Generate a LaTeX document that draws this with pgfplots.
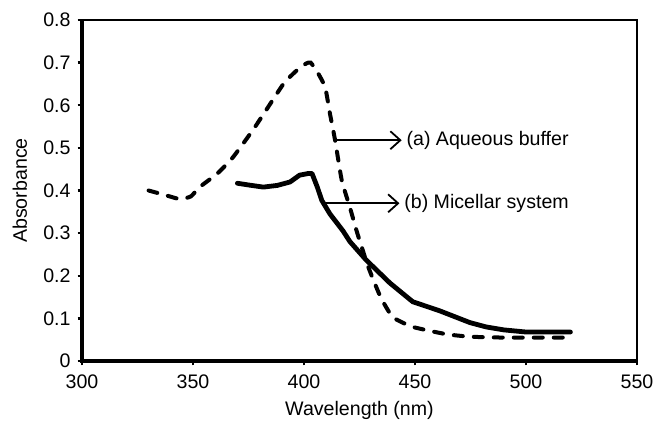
\documentclass[border=0pt]{standalone}
\usepackage{fontspec}
\setmainfont{Liberation Sans}
\usepackage{pgfplots}
\pgfplotsset{compat=1.18}
\usetikzlibrary{arrows.meta}
\begin{document}
\begin{tikzpicture}[font=\fontsize{9.8}{11.5}\selectfont]
\useasboundingbox (-41pt,-32pt) rectangle (288pt,180.5pt);
\begin{axis}[
  at={(0,0)}, anchor=south west,
  scale only axis,
  width=277.5pt, height=170.5pt,
  xmin=300, xmax=550, ymin=0, ymax=0.8,
  xtick={300,350,400,450,500,550},
  xticklabels={300,350,400,450,500,550},
  ytick={0,0.1,0.2,0.3,0.4,0.5,0.6,0.7,0.8},
  yticklabels={0,0.1,0.2,0.3,0.4,0.5,0.6,0.7,0.8},
  xtick pos=left, ytick pos=left,
  tick align=outside,
  major tick length=2.2pt,
  tick style={line width=1.2pt, black},
  axis line style={line width=1pt},
  /pgf/number format/assume math mode=true,
  xticklabel style={yshift=-1pt},
  xlabel={Wavelength (nm)},
  ylabel={Absorbance},
  xlabel style={at={(axis description cs:0.5,-0.144)}, anchor=center},
  ylabel style={at={(axis description cs:-0.112,0.5)}, anchor=center},
  clip=false,
]
\draw[line width=1.6pt] (axis cs:300,0.8) -- (axis cs:300,0) -- (axis cs:550,0);
\addplot[black, line width=2pt, line cap=round, dash pattern=on 4.5pt off 5.5pt, smooth, tension=0.3] coordinates {
(330,0.400) (337,0.390) (344,0.380) (349,0.386) (353,0.408) (361,0.440) (368,0.478)
(377,0.542) (383,0.589) (391,0.652) (397,0.683) (401,0.698) (403,0.700) (406,0.678)
(409.5,0.643) (411.7,0.580) (414,0.518) (417,0.424) (420.7,0.360) (424,0.300)
(429,0.220) (434.5,0.150) (440,0.103) (449,0.080) (464,0.063) (475,0.057) (490,0.055) (520,0.055)
};
\addplot[black, line width=2.4pt, line join=round, line cap=round] coordinates {
(370,0.417) (375,0.413) (381.7,0.408) (388,0.412) (393.7,0.420) (398,0.436) (402,0.440)
(403.6,0.440) (406,0.408) (408,0.377) (411.7,0.345) (417.6,0.305) (420.7,0.280) (428,0.237)
(438.7,0.183) (449,0.139) (461,0.118) (474.8,0.090) (482,0.080) (490,0.073) (500,0.068) (520,0.068)
};
\draw[line width=0.9pt, -{Straight Barb[length=5pt,width=9pt,line width=0.9pt]}] (axis cs:414,0.518) -- (axis cs:444,0.518)
  node[right, inner sep=2pt] {(a) Aqueous buffer};
\draw[line width=0.9pt, -{Straight Barb[length=5pt,width=9pt,line width=0.9pt]}] (axis cs:409.5,0.370) -- (axis cs:443,0.370)
  node[right, inner sep=2pt] {(b) Micellar system};
\end{axis}
\end{tikzpicture}
\end{document}
